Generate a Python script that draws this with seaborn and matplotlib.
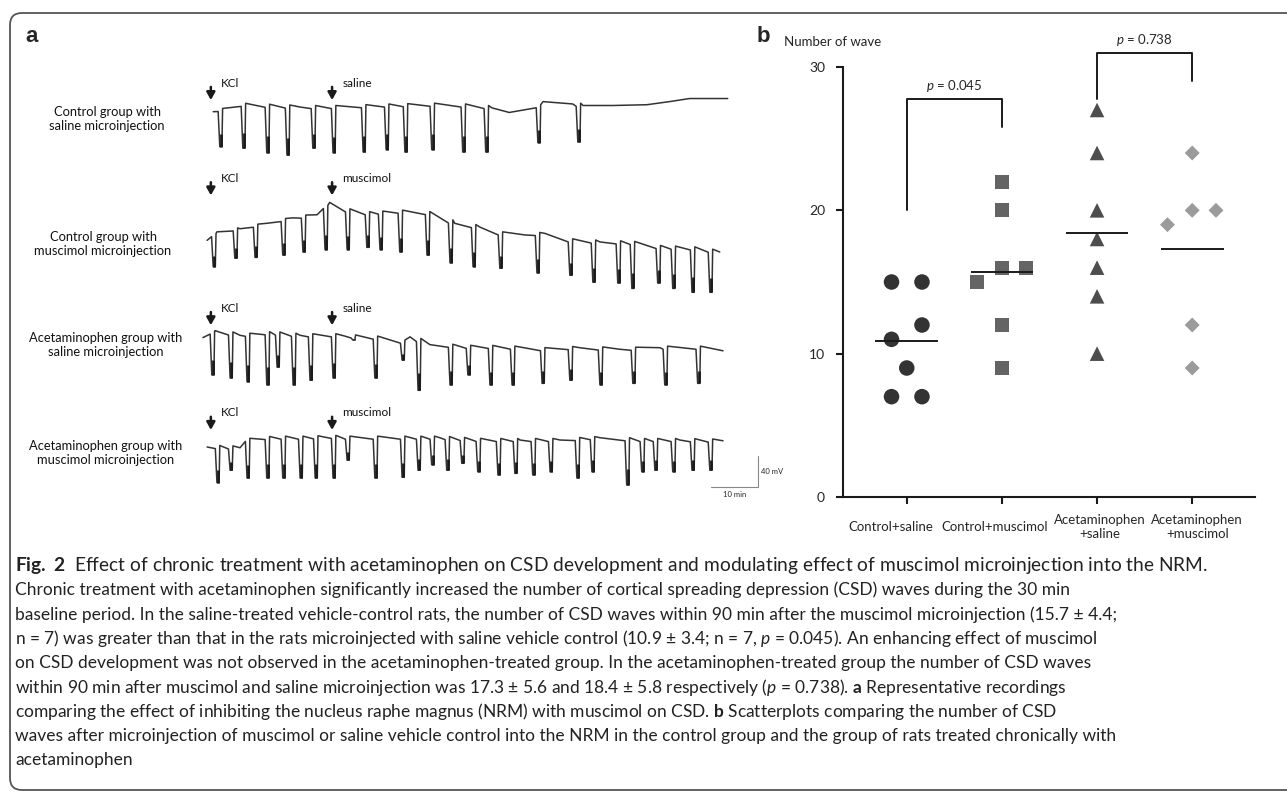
import numpy as np
import pandas as pd
import seaborn as sns
import matplotlib.pyplot as plt
import matplotlib.transforms as mtransforms
from matplotlib.patches import FancyBboxPatch

# ---- panel b data: number of CSD waves per rat ----
groups = ["Control+saline", "Control+muscimol", "Acetaminophen\n+saline", "Acetaminophen\n+muscimol"]
ctrl_saline = [15, 15, 12, 11, 9, 7, 7]
ctrl_muscimol = [22, 20, 16, 16, 15, 12, 9]
acet_saline = [27, 24, 20, 18, 16, 14, 10]
acet_muscimol = [24, 20, 20, 19, 12, 9]
p_labels = ["$p$ = 0.045", "$p$ = 0.738"]

# horizontal spread of overlapping points (layout only)
spread = [[-0.16, 0.16, 0.16, -0.16, 0, -0.16, 0.16],
          [0, 0, 0, 0.25, -0.26, 0, 0],
          [0, 0, 0, 0, 0, 0, 0],
          [0, 0, 0.25, -0.26, 0, 0]]

# ---- panel a data: recordings (time in min after KCl, potential in mV) ----
trace_names = ["Control group with\nsaline microinjection",
               "Control group with\nmuscimol microinjection",
               "Acetaminophen group with\nsaline microinjection",
               "Acetaminophen group with\nmuscimol microinjection"]
drug_names = ["saline", "muscimol", "saline", "muscimol"]
kcl_time = 0.4
drug_time = 26.2

t1_base_t = [0.9, 6.6, 19.4, 26.4, 37.9, 47.4, 54.0, 58.9, 60.2, 63.9, 69.8, 71.1, 77.4, 79.6, 86.0, 93.2, 98.0, 102.3, 110.4]
t1_base_v = [-5, 4, 1, 1, 3, 4, 3, 1, 0, -6, 1, 8, 5, 3, 3, 4, 8, 12, 12]
t1_wave_t = [2.3, 7.2, 12.3, 16.6, 22.1, 26.4, 32.8, 37.7, 41.7, 47.4, 54.0, 58.9, 70.0, 78.5]
t1_wave_v = [-50, -52, -58, -61, -52, -58, -57, -54, -57, -54, -57, -57, -45, -44]

t2_base_t = [-0.4, 1.7, 6.6, 12.3, 17.9, 23.0, 25.7, 30.0, 33.6, 40.6, 47.0, 52.3, 57.7, 61.9, 67.2, 71.5, 76.8, 83.2, 89.6, 96.0, 102.3, 108.7]
t2_base_v = [-3, 8, 12, 19, 26, 30, 46, 34, 32, 34, 32, 19, 14, 6, 4, 6, -3, -5, -6, -12, -13, -18]
t2_wave_t = [0.9, 5.5, 9.8, 15.7, 20.0, 24.7, 29.4, 33.6, 36.4, 40.6, 46.4, 51.3, 56.2, 61.9, 69.8, 76.8, 81.7, 87.0, 90.0, 95.5, 98.7, 102.8, 106.6]
t2_wave_v = [-37, -26, -25, -22, -18, -15, -15, -12, -15, -18, -22, -32, -37, -39, -45, -48, -57, -58, -65, -58, -65, -70, -70]

t3_base_t = [-1.3, 1.3, 6.6, 13.0, 19.4, 26.4, 28.9, 35.3, 40.6, 42.8, 47.0, 55.5, 61.9, 70.4, 78.9, 87.4, 96.0, 104.5, 109.4]
t3_base_v = [-6, 3, -3, 0, -3, -3, -4, -6, -13, -5, -15, -18, -18, -21, -19, -21, -19, -19, -23]
t3_wave_t = [0.6, 4.5, 8.1, 12.3, 14.5, 17.9, 21.5, 26.4, 30.6, 35.3, 41.1, 44.5, 51.3, 55.1, 59.8, 64.5, 70.9, 76.8, 83.2, 90.2, 97.0, 104.0]
t3_wave_v = [-54, -58, -63, -67, -44, -67, -61, -58, -9, -58, -35, -74, -67, -54, -67, -67, -65, -61, -67, -65, -67, -65]

t4_base_t = [-0.4, 1.3, 6.6, 7.7, 13.0, 19.4, 26.4, 28.9, 35.3, 40.6, 49.1, 57.7, 66.2, 74.7, 83.2, 91.7, 100.2, 109.4]
t4_base_v = [0, 0, -1, 9, 12, 12, 13, 12, 12, 12, 12, 9, 9, 9, 12, 9, 9, 8]
t4_wave_t = [1.7, 4.5, 8.1, 12.3, 15.7, 19.4, 22.6, 26.4, 29.4, 35.3, 41.1, 44.5, 47.4, 50.6, 53.8, 57.2, 61.5, 65.1, 68.9, 72.6, 78.3, 81.5, 88.9, 92.1, 94.9, 98.7, 102.8, 106.6]
t4_wave_v = [-46, -30, -40, -40, -40, -40, -40, -40, -17, -40, -39, -30, -23, -30, -21, -32, -36, -34, -36, -32, -40, -32, -49, -32, -30, -32, -30, -30]

caption_title = r"$\mathbf{Fig.\ 2}$  Effect of chronic treatment with acetaminophen on CSD development and modulating effect of muscimol microinjection into the NRM."
caption_lines = [
    "Chronic treatment with acetaminophen significantly increased the number of cortical spreading depression (CSD) waves during the 30 min",
    "baseline period. In the saline-treated vehicle-control rats, the number of CSD waves within 90 min after the muscimol microinjection (15.7 ± 4.4;",
    "n = 7) was greater than that in the rats microinjected with saline vehicle control (10.9 ± 3.4; n = 7, $p$ = 0.045). An enhancing effect of muscimol",
    "on CSD development was not observed in the acetaminophen-treated group. In the acetaminophen-treated group the number of CSD waves",
    r"within 90 min after muscimol and saline microinjection was 17.3 ± 5.6 and 18.4 ± 5.8 respectively ($p$ = 0.738). $\mathbf{a}$ Representative recordings",
    r"comparing the effect of inhibiting the nucleus raphe magnus (NRM) with muscimol on CSD. $\mathbf{b}$ Scatterplots comparing the number of CSD",
    "waves after microinjection of muscimol or saline vehicle control into the NRM in the control group and the group of rats treated chronically with",
    "acetaminophen",
]

# ---- style ----
sns.set_theme(style="white")
plt.rcParams["font.family"] = ["Lato", "DejaVu Sans"]
plt.rcParams["mathtext.fontset"] = "custom"
plt.rcParams["mathtext.rm"] = "Lato"
plt.rcParams["mathtext.it"] = "Lato:italic"
plt.rcParams["mathtext.bf"] = "Lato:bold"

W, H = 1287, 793
fig = plt.figure(figsize=(W / 100, H / 100), dpi=100)


def fx(px):
    return px / W


def fy(py):
    return 1 - py / H


# rounded frame of the figure page
fig.patches.append(FancyBboxPatch((0.10, 0.03), 13.5, 7.77, boxstyle="round,pad=0,rounding_size=0.12",
                                  transform=fig.dpi_scale_trans, fill=False, ec="#555555", lw=1.3))

fig.text(fx(25), fy(37), "a", fontsize=16, fontweight="bold", family="Liberation Sans", va="center")
fig.text(fx(757), fy(37), "b", fontsize=16, fontweight="bold", family="Liberation Sans", va="center")

# ================= panel a =================
ax_a = fig.add_axes([fx(200), fy(500), fx(570), 430 / H])
ax_a.set_xlim(-1.91, 119.4)
ax_a.set_ylim(0, 554.8)
ax_a.axis("off")

traces = [(t1_base_t, t1_base_v, t1_wave_t, t1_wave_v),
          (t2_base_t, t2_base_v, t2_wave_t, t2_wave_v),
          (t3_base_t, t3_base_v, t3_wave_t, t3_wave_v),
          (t4_base_t, t4_base_v, t4_wave_t, t4_wave_v)]
offsets = [506, 338, 215.5, 68.4]
arrow_tip = [10, 55, 10, 22]
label_y = [119, 244, 345, 453]
label_x = [107, 103, 106, 106]

for i, (bt, bv, wt, wv) in enumerate(traces):
    off = offsets[i]
    bt = np.array(bt, float)
    bv = np.array(bv, float)
    wt = np.array(wt, float)
    wv = np.array(wv, float)
    base = np.interp(wt, bt, bv)
    keep = np.array([np.min(np.abs(wt - a)) > 0.7 for a in bt])
    tt = list(bt[keep])
    vv = list(bv[keep])
    for st, b, bot in zip(wt, base, wv):
        tt += [st - 0.35, st, st + 0.45, st + 0.6]
        vv += [b - 2, bot, bot, b + 2]
    order = np.argsort(tt, kind="stable")
    tt = np.array(tt)[order]
    vv = np.array(vv)[order] + off
    ax_a.plot(tt, vv, color="#333333", lw=1.1)
    ax_a.vlines(wt + 0.22, wv + off, wv + off + (base - wv) * 0.35, color="k", lw=2.0)

    # injection arrows and names
    for t, name in [(kcl_time, "KCl"), (drug_time, drug_names[i])]:
        tip = arrow_tip[i] + off
        ax_a.annotate("", xy=(t, tip), xytext=(t, tip + 17),
                      arrowprops=dict(arrowstyle="-|>,head_width=0.25,head_length=0.45",
                                      lw=1.8, color="k", shrinkA=0, shrinkB=0, mutation_scale=10))
        ax_a.text(t + 2.2, tip + 22, name, fontsize=8.5, va="center", ha="left", color="#111111")

    fig.text(fx(label_x[i]), fy(label_y[i]), trace_names[i], fontsize=9.3, ha="center", va="center",
             linespacing=1.25, color="#111111")

# scale bar: 10 min x 40 mV
ax_a.plot([106.8, 116.8, 116.8], [16.8, 16.8, 56.8], color="#888888", lw=0.8)
ax_a.text(117.5, 37.4, "40 mV", fontsize=5.5, va="center", ha="left")
ax_a.text(111.8, 6.5, "10 min", fontsize=5.5, va="center", ha="center")

# ================= panel b =================
ax_b = fig.add_axes([fx(843), fy(497), (1255 - 843) / W, (497 - 67) / H])
values = [ctrl_saline, ctrl_muscimol, acet_saline, acet_muscimol]
rows = []
for gi, (g, vals) in enumerate(zip(groups, values)):
    for v, dx in zip(vals, spread[gi]):
        rows.append({"group": g, "waves": v, "xpos": gi + dx})
df = pd.DataFrame(rows)

palette = dict(zip(groups, ["#333333", "#646464", "#4d4d4d", "#9b9b9b"]))
markers = dict(zip(groups, ["o", "s", "^", "D"]))
sizes = dict(zip(groups, [125, 105, 110, 58]))
sns.scatterplot(data=df, x="xpos", y="waves", hue="group", style="group", size="group",
                palette=palette, markers=markers, sizes=sizes, edgecolor="none",
                legend=False, ax=ax_b, zorder=3)

for gi, vals in enumerate(values):
    ax_b.hlines(np.mean(vals), gi - 0.33, gi + 0.33, color="k", lw=1.4, zorder=4)

# significance brackets
brackets = [(0, 1, 20.0, 27.8, 25.8), (2, 3, 27.8, 31.0, 29.0)]
for (x0, x1, y0, top, y1), lab in zip(brackets, p_labels):
    ax_b.plot([x0, x0, x1, x1], [y0, top, top, y1], color="k", lw=1.4, clip_on=False)
    ax_b.text((x0 + x1) / 2, top + 0.35, lab, ha="center", va="bottom", fontsize=9.5)

ax_b.set_xlim(-0.67, 3.66)
ax_b.set_ylim(0, 30)
ax_b.set_yticks([0, 10, 20, 30])
ax_b.set_xticks(range(len(groups)))
ax_b.set_xticklabels([])
# category names, drawn slightly off-centre like the original
label_shift = [-0.168, -0.074, 0.032, 0.053]
xlab_trans = mtransforms.blended_transform_factory(ax_b.transData, ax_b.transAxes)
for gi, (g, dx) in enumerate(zip(groups, label_shift)):
    ax_b.text(gi + dx, -0.07, g, transform=xlab_trans, ha="center", va="center",
              fontsize=9.5, linespacing=1.25)
ax_b.set_xlabel("")
ax_b.set_ylabel("")
sns.despine(ax=ax_b)
for s in ["left", "bottom"]:
    ax_b.spines[s].set_linewidth(1.5)
    ax_b.spines[s].set_color("k")
ax_b.tick_params(axis="y", length=5, width=1.5, pad=8, labelsize=10, left=True, color="k")
ax_b.tick_params(axis="x", length=5, width=1.5, bottom=True, color="k")
ax_b.set_facecolor("none")
fig.text(fx(784), fy(42), "Number of wave", fontsize=9.5, va="center", ha="left")

# ================= caption =================
fig.text(fx(15), fy(566), caption_title, fontsize=13.8, va="center", ha="left", color="#222222")
for i, line in enumerate(caption_lines):
    fig.text(fx(15), fy(590 + 24.25 * i), line, fontsize=12.5, va="center", ha="left", color="#222222")

fig.savefig("out.png", dpi=100)
